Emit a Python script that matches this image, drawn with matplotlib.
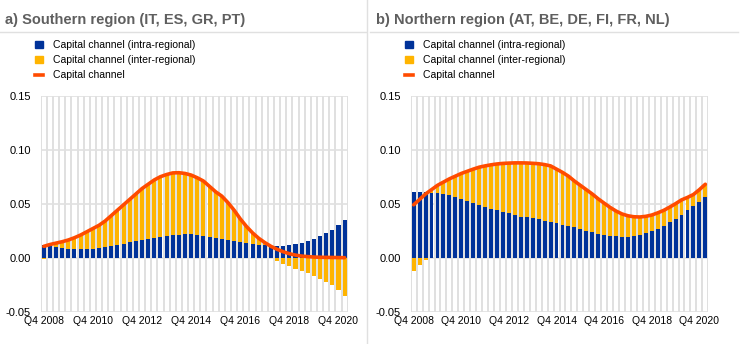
import matplotlib.pyplot as plt
import numpy as np
from matplotlib.lines import Line2D
from matplotlib.patches import Patch

plt.rcParams['font.family'] = ['Liberation Sans', 'DejaVu Sans']

# quarters Q4 2008 .. Q1 2021
quarters = ["Q4 2008", "Q4 2010", "Q4 2012", "Q4 2014", "Q4 2016", "Q4 2018", "Q4 2020"]
n_quarters = 50

# a) Southern region
south_intra = [0.0117, 0.0105, 0.0098, 0.009, 0.0082, 0.008, 0.0078, 0.0078, 0.008, 0.0086,
               0.0095, 0.0105, 0.0117, 0.013, 0.0142, 0.0153, 0.0163, 0.0173, 0.0183, 0.0192,
               0.020, 0.0207, 0.0212, 0.0215, 0.0215, 0.0212, 0.0205, 0.0195, 0.0185, 0.0175,
               0.0163, 0.0152, 0.0143, 0.0135, 0.0127, 0.012, 0.0114, 0.011, 0.0107, 0.011,
               0.0115, 0.0125, 0.014, 0.0155, 0.0175, 0.0198, 0.0225, 0.0257, 0.030, 0.035]
south_inter = [-0.0012, 0.0017, 0.0037, 0.0058, 0.0082, 0.0105, 0.0132, 0.0162, 0.019, 0.0214,
               0.0245, 0.0285, 0.0323, 0.036, 0.0398, 0.0437, 0.0477, 0.0507, 0.0537, 0.0558,
               0.057, 0.0578, 0.0575, 0.0565, 0.055, 0.0528, 0.0505, 0.0465, 0.0425, 0.0395,
               0.0347, 0.0288, 0.0217, 0.0155, 0.0103, 0.006, 0.0026, -0.0005, -0.0029, -0.0055,
               -0.0078, -0.0101, -0.0125, -0.0145, -0.0169, -0.0194, -0.0222, -0.0255, -0.0299, -0.035]
south_total = [0.0105, 0.0122, 0.0135, 0.0148, 0.0164, 0.0185, 0.021, 0.024, 0.027, 0.030,
               0.034, 0.039, 0.044, 0.049, 0.054, 0.059, 0.064, 0.068, 0.072, 0.075,
               0.077, 0.0785, 0.0787, 0.078, 0.0765, 0.074, 0.071, 0.066, 0.061, 0.057,
               0.051, 0.044, 0.036, 0.029, 0.023, 0.018, 0.014, 0.0105, 0.0078, 0.0055,
               0.0037, 0.0024, 0.0015, 0.001, 0.0006, 0.0004, 0.0003, 0.0002, 0.0001, 0.0]

# b) Northern region
north_intra = [0.061, 0.061, 0.0608, 0.060, 0.0596, 0.059, 0.058, 0.0565, 0.0546, 0.0528,
               0.051, 0.049, 0.047, 0.0454, 0.0438, 0.0423, 0.041, 0.0395, 0.038, 0.0373,
               0.0364, 0.0355, 0.0343, 0.0333, 0.032, 0.0306, 0.0293, 0.028, 0.0265, 0.025,
               0.0238, 0.022, 0.021, 0.020, 0.0198, 0.0194, 0.0194, 0.020, 0.021, 0.0225,
               0.0244, 0.0265, 0.0293, 0.0327, 0.0358, 0.040, 0.044, 0.048, 0.052, 0.056]
north_inter = [-0.012, -0.007, -0.0018, 0.003, 0.0074, 0.011, 0.015, 0.019, 0.0234, 0.0272,
               0.031, 0.0348, 0.038, 0.0406, 0.043, 0.045, 0.0466, 0.0483, 0.0498, 0.0504,
               0.051, 0.0515, 0.0519, 0.0517, 0.050, 0.0484, 0.0462, 0.043, 0.0405, 0.038,
               0.0352, 0.0325, 0.0295, 0.0266, 0.0234, 0.0211, 0.0194, 0.0179, 0.0167, 0.0158,
               0.0151, 0.015, 0.0145, 0.0141, 0.0142, 0.0135, 0.0118, 0.0105, 0.011, 0.012]
north_total = [0.049, 0.054, 0.059, 0.063, 0.067, 0.070, 0.073, 0.0755, 0.078, 0.080,
               0.082, 0.0838, 0.085, 0.086, 0.0868, 0.0873, 0.0876, 0.0878, 0.0878, 0.0877,
               0.0874, 0.087, 0.0862, 0.085, 0.082, 0.079, 0.0755, 0.071, 0.067, 0.063,
               0.059, 0.0545, 0.0505, 0.0466, 0.0432, 0.0405, 0.0388, 0.0379, 0.0377, 0.0383,
               0.0395, 0.0415, 0.0438, 0.0468, 0.050, 0.0535, 0.0558, 0.0585, 0.063, 0.068]

BLUE = "#003299"
YELLOW = "#FFB400"
RED = "#FF4B00"
GRID = "#e0e0e0"
TITLE_GREY = "#5f5f5f"

W, H = 744, 344
fig = plt.figure(figsize=(W / 100, H / 100), dpi=100)


def px(x0, y0, x1, y1):
    # pixel box (top-left origin) -> figure fraction rect
    return [x0 / W, 1 - y1 / H, (x1 - x0) / W, (y1 - y0) / H]


def draw_panel(rect, intra, inter, total):
    ax = fig.add_axes(rect)
    x = np.arange(n_quarters)
    intra = np.array(intra)
    inter = np.array(inter)
    bottom = np.where(inter > 0, intra, 0)

    ax.bar(x, intra, width=0.66, color=BLUE, zorder=2)
    ax.bar(x, inter, bottom=bottom, width=0.66, color=YELLOW, zorder=2)
    ax.plot(x, total, color=RED, lw=2.6, solid_capstyle="round", zorder=3)

    ax.set_xlim(-0.5, n_quarters - 0.5)
    ax.set_ylim(-0.05, 0.15)
    ax.set_yticks(np.arange(-0.05, 0.151, 0.05))
    ax.set_yticklabels(["-0.05", "0.00", "0.05", "0.10", "0.15"])
    ax.set_xticks(np.arange(0, n_quarters, 8))
    ax.set_xticklabels(quarters)
    ax.set_xticks(np.arange(-0.5, n_quarters, 1), minor=True)
    ax.tick_params(which="both", length=0)
    ax.tick_params(axis="y", labelsize=8, pad=7, colors="black")
    ax.tick_params(axis="x", labelsize=7.5, pad=3, colors="black")

    ax.grid(which="minor", axis="x", color=GRID, lw=1.4, zorder=0)
    ax.grid(which="major", axis="y", color=GRID, lw=1.2, zorder=0)
    ax.set_axisbelow(True)
    for s in ax.spines.values():
        s.set_visible(False)
    return ax


draw_panel(px(40.7, 95.7, 347.7, 311.7), south_intra, south_inter, south_total)
draw_panel(px(410.7, 95.7, 708.3, 311.7), north_intra, north_inter, north_total)

# titles and separators
fig.text(5 / W, 1 - 20 / H, "a) Southern region (IT, ES, GR, PT)", fontsize=10.5,
         fontweight="bold", color=TITLE_GREY, va="center")
fig.text(376 / W, 1 - 20 / H, "b) Northern region (AT, BE, DE, FI, FR, NL)", fontsize=10.5,
         fontweight="bold", color=TITLE_GREY, va="center")
fig.add_artist(Line2D([0, 366 / W], [1 - 32 / H] * 2, color=GRID, lw=1))
fig.add_artist(Line2D([370 / W, 738 / W], [1 - 32 / H] * 2, color=GRID, lw=1))
fig.add_artist(Line2D([367 / W] * 2, [0, 1], color=GRID, lw=1))

# legends
handles = [Patch(color=BLUE), Patch(color=YELLOW), Line2D([], [], color=RED, lw=2.6)]
labels = ["Capital channel (intra-regional)", "Capital channel (inter-regional)", "Capital channel"]
for x0 in (35, 405):
    fig.legend(handles, labels, loc="upper left", bbox_to_anchor=(x0 / W, 1 - 40 / H),
               frameon=False, fontsize=7.5, handlelength=0.75, handleheight=0.75,
               handletextpad=1.0, labelspacing=0.5, borderpad=0, borderaxespad=0)

fig.savefig("out.png", dpi=100)
